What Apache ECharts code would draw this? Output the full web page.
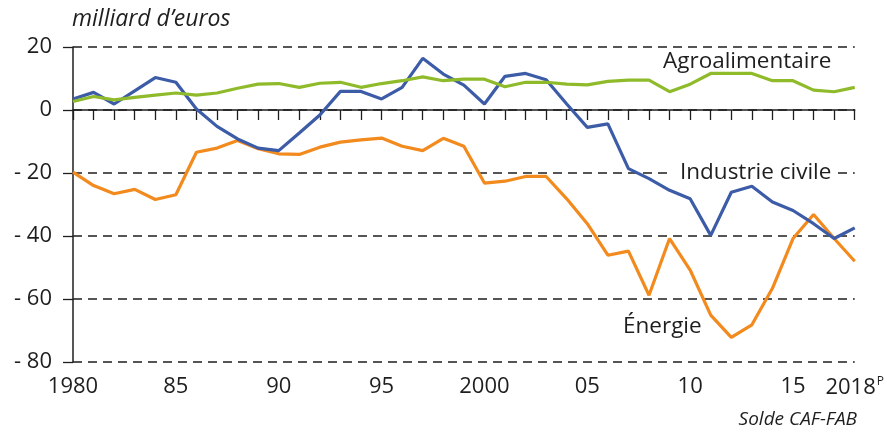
<!DOCTYPE html>
<html>
<head>
<meta charset="utf-8">
<script src="https://cdn.jsdelivr.net/npm/echarts@6/dist/echarts.min.js"></script>
<style>
  html, body { margin: 0; padding: 0; background: #fff; }
  #chart { width: 887px; height: 432px; }
</style>
</head>
<body>
<div id="chart"></div>
<script>
// Years of the series (x axis)
const years = [
  1980, 1981, 1982, 1983, 1984, 1985, 1986, 1987, 1988, 1989,
  1990, 1991, 1992, 1993, 1994, 1995, 1996, 1997, 1998, 1999,
  2000, 2001, 2002, 2003, 2004, 2005, 2006, 2007, 2008, 2009,
  2010, 2011, 2012, 2013, 2014, 2015, 2016, 2017, 2018
];

// Trade balance (CAF-FAB), billions of euros
const industrieCivile = [
  3.5, 5.6, 1.9, 6.1, 10.3, 8.8, 0.3, -5.2, -9.2, -12.1,
  -12.9, -7.3, -1.6, 5.9, 5.9, 3.5, 7.2, 16.4, 11.4, 7.9,
  1.9, 10.7, 11.6, 9.6, 1.9, -5.5, -4.4, -18.6, -21.8, -25.5,
  -28.2, -39.8, -26.1, -24.2, -29.2, -31.9, -36.1, -40.8, -37.4
];
const energie = [
  -19.7, -24.0, -26.6, -25.2, -28.4, -26.9, -13.4, -12.1, -9.7, -12.3,
  -13.9, -14.1, -11.8, -10.2, -9.5, -8.9, -11.5, -12.9, -9.0, -11.5,
  -23.2, -22.6, -21.1, -21.1, -28.2, -36.1, -46.1, -44.8, -58.8, -40.8,
  -50.8, -65.1, -72.2, -68.2, -56.6, -40.8, -33.2, -40.8, -48.0
];
const agroalimentaire = [
  2.7, 4.3, 3.2, 4.0, 4.7, 5.4, 4.7, 5.4, 6.9, 8.2,
  8.4, 7.2, 8.5, 8.8, 7.2, 8.4, 9.3, 10.5, 9.3, 9.8,
  9.8, 7.4, 8.8, 8.8, 8.2, 8.0, 9.1, 9.5, 9.5, 5.8,
  8.2, 11.6, 11.6, 11.6, 9.3, 9.3, 6.3, 5.8, 7.2
];

// Labelled years on the x axis and their text
const xLabelYears = [1980, 1985, 1990, 1995, 2000, 2005, 2010, 2015, 2018];
const xLabelTexts = ['1980', '85', '90', '95', '2000', '05', '10', '15', '2018{sup|P}'];

// Y axis ticks
const yTicks = [20, 0, -20, -40, -60, -80];

const FONT = '"Open Sans", "Noto Sans", sans-serif';
const INK = '#1e1e1e';

const pairs = arr => years.map((y, i) => [y, arr[i]]);

const chart = echarts.init(document.getElementById('chart'), null, { renderer: 'canvas' });

chart.setOption({
  animation: false,
  backgroundColor: '#ffffff',
  grid: { left: 73, right: 30, top: 47, bottom: 70, containLabel: false },
  xAxis: {
    type: 'value',
    min: years[0],
    max: years[years.length - 1],
    interval: 1,
    axisLine: { show: true, lineStyle: { color: INK, width: 1.5 } },
    axisTick: { show: true, inside: false, length: 10, lineStyle: { color: INK, width: 1.3 } },
    splitLine: { show: false },
    axisLabel: {
      margin: 14,
      color: INK,
      fontFamily: FONT,
      fontSize: 22,
      showMinLabel: true,
      showMaxLabel: true,
      formatter: v => {
        const k = xLabelYears.indexOf(v);
        return k >= 0 ? xLabelTexts[k] : '';
      },
      rich: {
        sup: { fontSize: 12, fontFamily: FONT, color: INK, verticalAlign: 'top', padding: [0, 0, 12, 1] }
      }
    }
  },
  yAxis: {
    type: 'value',
    min: yTicks[yTicks.length - 1],
    max: yTicks[0],
    interval: 20,
    axisLine: { show: true, lineStyle: { color: INK, width: 1.5 } },
    axisTick: { show: true, inside: false, length: 10, lineStyle: { color: INK, width: 1.3 } },
    splitLine: { show: true, lineStyle: { color: INK, width: 1.5, type: [9, 6] } },
    axisLabel: {
      margin: 21,
      color: INK,
      fontFamily: FONT,
      fontSize: 22,
      formatter: v => (v < 0 ? '- ' + (-v) : String(v))
    }
  },
  series: [
    {
      name: 'Énergie',
      type: 'line',
      data: pairs(energie),
      showSymbol: false,
      lineStyle: { color: '#f28a1e', width: 3.2 },
      z: 3
    },
    {
      name: 'Industrie civile',
      type: 'line',
      data: pairs(industrieCivile),
      showSymbol: false,
      lineStyle: { color: '#3c5ca8', width: 3.2 },
      z: 4
    },
    {
      name: 'Agroalimentaire',
      type: 'line',
      data: pairs(agroalimentaire),
      showSymbol: false,
      lineStyle: { color: '#8fbb2b', width: 3.2 },
      z: 5
    }
  ],
  graphic: [
    { type: 'text', left: 72, top: 8, style: { text: 'milliard d’euros', font: 'italic 23px ' + FONT, fill: INK } },
    { type: 'text', right: 30, top: 410, style: { text: 'Solde CAF-FAB', font: 'italic 19px ' + FONT, fill: INK } },
    { type: 'text', left: 663, top: 50, z: 10, style: { text: 'Agroalimentaire', font: '22.5px ' + FONT, fill: INK } },
    {
      type: 'text', left: 672, top: 161, z: 10,
      style: { text: 'Industrie civile', font: '22.5px ' + FONT, fill: INK, backgroundColor: '#ffffff', padding: [0, 6, 0, 8] }
    },
    { type: 'text', left: 623, top: 315, z: 10, style: { text: 'Énergie', font: '22.5px ' + FONT, fill: INK } }
  ]
});
</script>
</body>
</html>
